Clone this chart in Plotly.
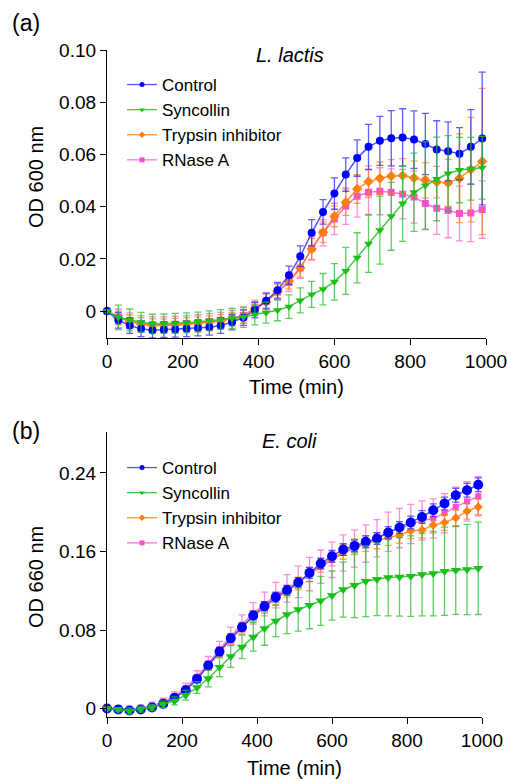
import plotly.graph_objects as go

W, H = 507, 783

time_min = list(range(0, 1000, 30))  # 0..990

# ---------- Panel (a): L. lactis, OD 600 nm ----------
a_control = [0, -0.0035, -0.0055, -0.0068, -0.0073, -0.0071, -0.007, -0.0068, -0.0065, -0.0062,
             -0.0055, -0.0042, -0.0025, 0.0004, 0.004, 0.008, 0.0137, 0.021, 0.030, 0.038,
             0.045, 0.0523, 0.0586, 0.0629, 0.0652, 0.0662, 0.0665, 0.0657, 0.064, 0.0619,
             0.0612, 0.0603, 0.0629, 0.0661]
a_control_err = [0, 0.003, 0.003, 0.003, 0.003, 0.003, 0.003, 0.003, 0.003, 0.003,
                 0.003, 0.003, 0.003, 0.003, 0.003, 0.003, 0.0035, 0.004, 0.005, 0.0047,
                 0.006, 0.0064, 0.007, 0.0086, 0.0094, 0.0106, 0.011, 0.011, 0.0117, 0.011,
                 0.0113, 0.010, 0.0143, 0.0254]
a_syncollin = [0, -0.0024, -0.0034, -0.0043, -0.0049, -0.0048, -0.0047, -0.0045, -0.0042, -0.0037,
               -0.0032, -0.0028, -0.0023, -0.0013, -0.0006, 0.0003, 0.0017, 0.0041, 0.0064, 0.0084,
               0.0112, 0.0154, 0.0204, 0.0258, 0.031, 0.0363, 0.0412, 0.0455, 0.0481, 0.0506,
               0.0527, 0.054, 0.0545, 0.0549]
a_syncollin_err = [0, 0.0047, 0.0042, 0.0038, 0.0037, 0.0037, 0.0038, 0.0038, 0.0038, 0.0038,
                   0.0038, 0.0038, 0.0039, 0.004, 0.004, 0.004, 0.0045, 0.0048, 0.005, 0.006,
                   0.007, 0.009, 0.0096, 0.011, 0.013, 0.013, 0.0145, 0.015, 0.0167, 0.016,
                   0.0145, 0.0125, 0.012, 0.012]
a_trypsin = [0, -0.0025, -0.004, -0.005, -0.0055, -0.0055, -0.0053, -0.005, -0.0047, -0.0043,
             -0.0038, -0.003, -0.002, 0.001, 0.0035, 0.0075, 0.0115, 0.0165, 0.0238, 0.0302,
             0.0363, 0.0417, 0.0468, 0.0496, 0.0509, 0.0517, 0.0519, 0.051, 0.0501, 0.0494,
             0.0491, 0.0509, 0.0542, 0.0573]
a_trypsin_err = [0, 0.0025, 0.0025, 0.0025, 0.0025, 0.0025, 0.0025, 0.0025, 0.0025, 0.0025,
                 0.0025, 0.0025, 0.0025, 0.0025, 0.003, 0.003, 0.003, 0.0035, 0.004, 0.004,
                 0.004, 0.005, 0.0055, 0.006, 0.0062, 0.0063, 0.0065, 0.0065, 0.0068, 0.006,
                 0.009, 0.017, 0.02, 0.028]
a_rnase = [0, -0.0022, -0.0037, -0.0047, -0.0052, -0.0052, -0.005, -0.0047, -0.0044, -0.004,
           -0.0035, -0.0027, -0.0017, 0.0012, 0.0037, 0.0073, 0.011, 0.0165, 0.024, 0.030,
           0.0353, 0.0402, 0.044, 0.0455, 0.0459, 0.0455, 0.0448, 0.0437, 0.0412, 0.0394,
           0.0386, 0.0374, 0.0376, 0.0389]
a_rnase_err = [0, 0.003, 0.003, 0.003, 0.003, 0.003, 0.003, 0.003, 0.003, 0.003,
               0.003, 0.003, 0.003, 0.003, 0.003, 0.003, 0.0035, 0.004, 0.0045, 0.005,
               0.006, 0.007, 0.008, 0.0085, 0.009, 0.009, 0.0095, 0.01, 0.01, 0.01,
               0.0105, 0.0105, 0.011, 0.011]

# ---------- Panel (b): E. coli, OD 660 nm ----------
b_control = [0, -0.001, -0.002, -0.001, 0.0012, 0.0048, 0.011, 0.0187, 0.0302, 0.0438,
             0.058, 0.0716, 0.0828, 0.0948, 0.1042, 0.1135, 0.1205, 0.1284, 0.1382, 0.1477,
             0.1552, 0.162, 0.1657, 0.1698, 0.1732, 0.1793, 0.1844, 0.1895, 0.1952, 0.202,
             0.2088, 0.2173, 0.2224, 0.228]
b_control_err = [0.002, 0.002, 0.002, 0.002, 0.002, 0.0025, 0.003, 0.003, 0.003, 0.0035,
                 0.004, 0.004, 0.004, 0.0045, 0.0045, 0.005, 0.005, 0.005, 0.0055, 0.0055,
                 0.006, 0.006, 0.006, 0.006, 0.006, 0.006, 0.006, 0.0065, 0.0065, 0.0065,
                 0.0065, 0.007, 0.007, 0.007]
b_syncollin = [0, -0.001, -0.0024, -0.0005, 0.001, 0.0044, 0.0078, 0.0136, 0.0214, 0.0306,
               0.0421, 0.053, 0.0628, 0.073, 0.0815, 0.0892, 0.0958, 0.1008, 0.1053, 0.1097,
               0.1151, 0.1212, 0.1256, 0.1297, 0.1317, 0.1334, 0.1341, 0.1348, 0.1365, 0.1375,
               0.1399, 0.1409, 0.1416, 0.1428]
b_syncollin_err = [0.002, 0.002, 0.003, 0.003, 0.003, 0.0035, 0.004, 0.005, 0.006, 0.0085,
                   0.0095, 0.011, 0.012, 0.0145, 0.017, 0.016, 0.0195, 0.022, 0.024, 0.025,
                   0.025, 0.028, 0.033, 0.036, 0.037, 0.039, 0.04, 0.041, 0.042, 0.043,
                   0.045, 0.045, 0.046, 0.047]
b_trypsin = [0, -0.001, -0.002, -0.001, 0.0012, 0.0048, 0.011, 0.0187, 0.0302, 0.0435,
             0.0575, 0.071, 0.082, 0.094, 0.103, 0.112, 0.1195, 0.1273, 0.1368, 0.146,
             0.1528, 0.1596, 0.1647, 0.1681, 0.1708, 0.1742, 0.1766, 0.181, 0.1817, 0.1868,
             0.1895, 0.1942, 0.201, 0.2054]
b_trypsin_err = [0.002, 0.002, 0.002, 0.002, 0.002, 0.0025, 0.003, 0.003, 0.0035, 0.004,
                 0.0045, 0.005, 0.005, 0.0055, 0.006, 0.006, 0.006, 0.0065, 0.007, 0.007,
                 0.0075, 0.0075, 0.008, 0.008, 0.008, 0.008, 0.008, 0.008, 0.008, 0.008,
                 0.008, 0.008, 0.008, 0.008]
b_rnase = [0.001, 0.0, -0.0008, 0.0005, 0.003, 0.0065, 0.0125, 0.021, 0.0325, 0.046,
           0.0605, 0.074, 0.0855, 0.097, 0.1065, 0.1155, 0.1225, 0.129, 0.137, 0.1445,
           0.1515, 0.1585, 0.163, 0.168, 0.1735, 0.18, 0.1838, 0.188, 0.1915, 0.1935,
           0.199, 0.2054, 0.211, 0.2163]
b_rnase_err = [0.002, 0.003, 0.003, 0.003, 0.0035, 0.004, 0.0045, 0.005, 0.006, 0.007,
               0.008, 0.009, 0.01, 0.011, 0.012, 0.013, 0.014, 0.016, 0.017, 0.017,
               0.018, 0.0185, 0.019, 0.019, 0.019, 0.02, 0.02, 0.02, 0.02, 0.02,
               0.02, 0.02, 0.02, 0.02]

x_ticks = [0, 200, 400, 600, 800, 1000]
a_yticks = [0, 0.02, 0.04, 0.06, 0.08, 0.10]
a_yticktext = ["0", "0.02", "0.04", "0.06", "0.08", "0.10"]
b_yticks = [0, 0.08, 0.16, 0.24]
b_yticktext = ["0", "0.08", "0.16", "0.24"]

FONT = "Liberation Sans, Arial, sans-serif"

styles = {
    "Control": dict(color="#0000ff", line="rgba(40,40,255,0.8)", err="rgba(40,40,255,0.75)", symbol="circle", rank=1),
    "Syncollin": dict(color="#19c019", line="rgba(40,190,40,0.85)", err="rgba(40,190,40,0.75)", symbol="triangle-down", rank=2),
    "Trypsin inhibitor": dict(color="#ff7f0e", line="rgba(255,127,20,0.85)", err="rgba(255,127,20,0.7)", symbol="diamond", rank=3),
    "RNase A": dict(color="#ff4fcf", line="rgba(255,90,210,0.85)", err="rgba(255,90,210,0.7)", symbol="square", rank=4),
}

fig = go.Figure()

def add(name, y, err, xa, ya, legend, msize):
    s = styles[name]
    fig.add_trace(go.Scatter(
        x=time_min, y=y, name=name, mode="lines+markers",
        xaxis=xa, yaxis=ya, showlegend=False,
        line=dict(color=s["line"], width=1.5),
        marker=dict(color=s["color"], symbol=s["symbol"], size=msize),
        error_y=dict(type="data", array=err, visible=True, color=s["err"], thickness=1.3, width=3.5),
        cliponaxis=False,
    ))
    # legend entry with a small marker, as in the reference
    fig.add_trace(go.Scatter(
        x=[None], y=[None], name=name, mode="lines+markers",
        xaxis=xa, yaxis=ya, legend=legend, legendrank=s["rank"], showlegend=True,
        line=dict(color=s["line"], width=1.3),
        marker=dict(color=s["color"], symbol=s["symbol"], size=5),
    ))

# drawing order: RNase A, Trypsin, Control, Syncollin (top)
add("RNase A", a_rnase, a_rnase_err, "x", "y", "legend", 7)
add("Trypsin inhibitor", a_trypsin, a_trypsin_err, "x", "y", "legend", 8)
add("Control", a_control, a_control_err, "x", "y", "legend", 8)
add("Syncollin", a_syncollin, a_syncollin_err, "x", "y", "legend", 8)

add("RNase A", b_rnase, b_rnase_err, "x2", "y2", "legend2", 6)
add("Trypsin inhibitor", b_trypsin, b_trypsin_err, "x2", "y2", "legend2", 7)
add("Control", b_control, b_control_err, "x2", "y2", "legend2", 10)
add("Syncollin", b_syncollin, b_syncollin_err, "x2", "y2", "legend2", 9)

axis_common = dict(showline=True, linecolor="black", linewidth=1.3, ticks="outside",
                   ticklen=6, tickwidth=1.3, tickcolor="black", showgrid=False, zeroline=False,
                   automargin=False, ticklabeloverflow="allow",
                   tickfont=dict(family=FONT, size=19, color="black"))

def px_x(p):
    return p / W

def px_y(p):
    return 1 - p / H

legend_common = dict(font=dict(family=FONT, size=17, color="black"), bgcolor="rgba(0,0,0,0)",
                     xanchor="left", yanchor="top", itemsizing="trace", tracegroupgap=0)

fig.update_layout(
    width=W, height=H, margin=dict(l=0, r=0, t=0, b=0, autoexpand=False),
    paper_bgcolor="white", plot_bgcolor="white",
    font=dict(family=FONT, size=19, color="black"),
    xaxis=dict(domain=[px_x(107), px_x(486)], range=[0, 1000], anchor="y",
               tickvals=x_ticks, **axis_common),
    yaxis=dict(domain=[px_y(338), px_y(50)], range=[-0.0103, 0.10], anchor="x",
               tickvals=a_yticks, ticktext=a_yticktext, **axis_common),
    xaxis2=dict(domain=[px_x(107), px_x(482)], range=[0, 1000], anchor="y2",
                tickvals=x_ticks, **axis_common),
    yaxis2=dict(domain=[px_y(717), px_y(431.7)], range=[-0.0086, 0.282], anchor="x2",
                tickvals=b_yticks, ticktext=b_yticktext, **axis_common),
    legend=dict(x=px_x(122), y=px_y(67), **legend_common),
    legend2=dict(x=px_x(122), y=px_y(450), **legend_common),
    showlegend=True,
)

annotations = [
    dict(text="(a)", x=px_x(10), y=px_y(23), xanchor="left", yanchor="middle", font=dict(size=23)),
    dict(text="<i>L. lactis</i>", x=px_x(290), y=px_y(55), xanchor="center", yanchor="middle", font=dict(size=20)),
    dict(text="Time (min)", x=px_x(296), y=px_y(387), xanchor="center", yanchor="middle", font=dict(size=20)),
    dict(text="OD 600 nm", x=px_x(36), y=px_y(177), xanchor="center", yanchor="middle", textangle=-90, font=dict(size=20)),
    dict(text="(b)", x=px_x(10), y=px_y(431), xanchor="left", yanchor="middle", font=dict(size=23)),
    dict(text="<i>E. coli</i>", x=px_x(289), y=px_y(441), xanchor="center", yanchor="middle", font=dict(size=20)),
    dict(text="Time (min)", x=px_x(294), y=px_y(768), xanchor="center", yanchor="middle", font=dict(size=20)),
    dict(text="OD 660 nm", x=px_x(36), y=px_y(577), xanchor="center", yanchor="middle", textangle=-90, font=dict(size=20)),
]
for a in annotations:
    a.update(xref="paper", yref="paper", showarrow=False)
    a["font"].update(family=FONT, color="black")
fig.update_layout(annotations=annotations)

fig.write_html("out.html",
               config={"displayModeBar": False},
               post_script="document.body.style.margin='0';document.body.style.overflow='hidden';")
